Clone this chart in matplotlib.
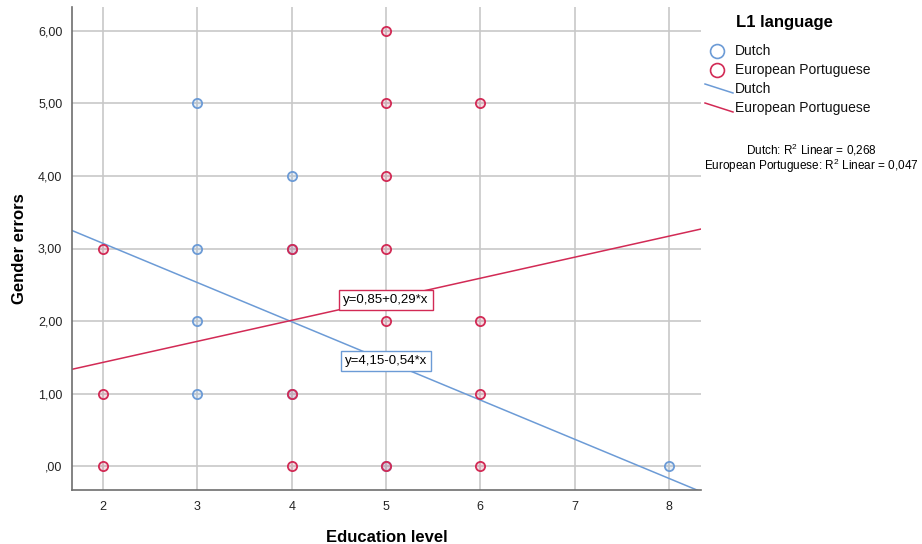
import numpy as np
import matplotlib
matplotlib.use('Agg')
from matplotlib import pyplot as plt
from matplotlib.lines import Line2D

plt.rcParams['font.family'] = ['Liberation Sans', 'DejaVu Sans']
plt.rcParams['mathtext.fontset'] = 'custom'
plt.rcParams['mathtext.rm'] = 'Liberation Sans'
plt.rcParams['mathtext.it'] = 'Liberation Sans'

# Data
dutch_edu = [3, 3, 3, 3, 4, 4, 4, 5, 8]
dutch_err = [5, 3, 2, 1, 4, 3, 1, 0, 0]
port_edu = [2, 2, 2, 4, 4, 4, 5, 5, 5, 5, 5, 5, 6, 6, 6, 6]
port_err = [3, 1, 0, 3, 1, 0, 6, 5, 4, 3, 2, 0, 5, 2, 1, 0]

# fit lines as printed on the chart
dutch_fit = (4.15, -0.54)
port_fit = (0.85, 0.29)
dutch_r2 = '0,268'
port_r2 = '0,047'

blue = '#6c9bd6'
red = '#d22a55'

fig = plt.figure(figsize=(9.22, 5.44), dpi=100)
ax = fig.add_axes([72/922, 54/544, 629/922, 483/544])

xmin, xmax = 1.67, 8.34
ax.set_xlim(xmin, xmax)
ax.set_ylim(-0.33, 6.33)

ax.set_xticks(range(2, 9))
ax.set_yticks(range(0, 7))
ax.set_yticklabels([',00', '1,00', '2,00', '3,00', '4,00', '5,00', '6,00'])
ax.grid(True, color='#c8c8c8', linewidth=1.2)
ax.set_axisbelow(True)
for s in ['top', 'right']:
    ax.spines[s].set_visible(False)
for s in ['left', 'bottom']:
    ax.spines[s].set_color('#6e6e6e')
    ax.spines[s].set_linewidth(1.2)
ax.tick_params(length=0, labelsize=9, colors='#222222')
ax.tick_params(axis='y', pad=7)
ax.tick_params(axis='x', pad=8)

# scatter points, hollow-ish circles
ax.scatter(dutch_edu, dutch_err, s=44, facecolors=(0.42, 0.61, 0.84, 0.15),
           edgecolors=blue, linewidths=1.3, zorder=3)
ax.scatter(port_edu, port_err, s=44, facecolors=(0.82, 0.16, 0.33, 0.15),
           edgecolors=red, linewidths=1.3, zorder=4)

# regression lines over the full x range
xs = np.array([xmin, xmax])
ax.plot(xs, dutch_fit[0] + dutch_fit[1] * xs, color=blue, linewidth=1.1, zorder=2)
ax.plot(xs, port_fit[0] + port_fit[1] * xs, color=red, linewidth=1.1, zorder=2)

ax.text(5.0, 2.29, 'y=0,85+0,29*x', ha='center', va='center', fontsize=9.5, zorder=5,
        bbox=dict(boxstyle='square,pad=0.3', facecolor='white', edgecolor=red, linewidth=1))
ax.text(5.0, 1.45, 'y=4,15-0,54*x', ha='center', va='center', fontsize=9.5, zorder=5,
        bbox=dict(boxstyle='square,pad=0.3', facecolor='white', edgecolor=blue, linewidth=1))

ax.set_xlabel('Education level', fontsize=12, fontweight='bold')
ax.xaxis.set_label_coords(0.5, -0.083)
ax.set_ylabel('Gender errors', fontsize=12, fontweight='bold')
ax.yaxis.set_label_coords(-0.072, 0.5)

# legend drawn by hand in pixel coords
def fx(px):
    return px / 922
def fy(py):
    return 1 - py / 544

fig.text(fx(736), fy(22), 'L1 language', fontsize=12, fontweight='bold', va='center')
fig.add_artist(Line2D([fx(717)], [fy(51)], marker='o', markersize=10, markerfacecolor='none',
                      markeredgecolor=blue, markeredgewidth=1.2, linestyle='none'))
fig.add_artist(Line2D([fx(717)], [fy(70)], marker='o', markersize=10, markerfacecolor='none',
                      markeredgecolor=red, markeredgewidth=1.2, linestyle='none'))
fig.add_artist(Line2D([fx(705), fx(733)], [fy(84), fy(93)], color=blue, linewidth=1.1))
fig.add_artist(Line2D([fx(705), fx(733)], [fy(103), fy(112)], color=red, linewidth=1.1))
for py, label in zip([51, 70, 89, 108], ['Dutch', 'European Portuguese', 'Dutch', 'European Portuguese']):
    fig.text(fx(735), fy(py), label, fontsize=10, va='center', color='#111111')

fig.text(fx(811), fy(150), 'Dutch: R$^2$ Linear = ' + dutch_r2, fontsize=8.5, ha='center', va='center')
fig.text(fx(811), fy(166), 'European Portuguese: R$^2$ Linear = ' + port_r2, fontsize=8.5,
         ha='center', va='center')

fig.savefig('out.png', dpi=100)
